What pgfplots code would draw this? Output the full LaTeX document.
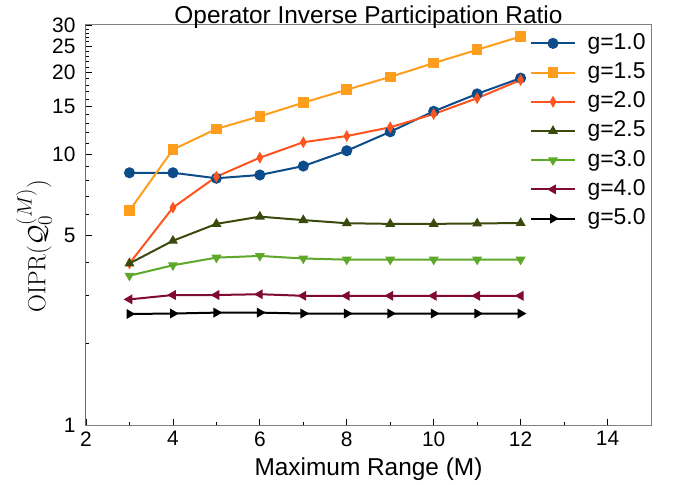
\documentclass[border=0pt]{standalone}
\usepackage[no-math]{fontspec}
\setmainfont{Liberation Sans}
\usepackage{pgfplots}
\pgfplotsset{compat=1.18}
\definecolor{cA}{RGB}{12,76,138}
\definecolor{cB}{RGB}{255,158,28}
\definecolor{cC}{RGB}{255,84,30}
\definecolor{cD}{RGB}{58,74,12}
\definecolor{cE}{RGB}{94,168,42}
\definecolor{cF}{RGB}{128,10,48}
\begin{document}
\begin{tikzpicture}
\begin{axis}[name=ax,
  scale only axis, width=565bp, height=400bp,
  ymode=log, xmin=2, xmax=15, ymin=1, ymax=30,
  xtick={2,4,...,14}, minor xtick={3,5,...,15},
  ytick={1,5,10,15,20,25,30}, yticklabels={1,5,10,15,20,25,30},
  minor ytick={2,3,4,6,7,8,9,11,12,13,14,16,17,18,19,21,22,23,24,26,27,28,29},
  xtick pos=bottom, ytick pos=left,
  major tick length=6bp, minor tick length=3.5bp,
  tick style={black, line width=0.8bp},
  axis line style={gray, line width=1bp},
  /pgf/number format/assume math mode=true,
  ticklabel style={font=\fontsize{21}{25}\selectfont},
  xticklabel style={yshift=-3bp},
  yticklabel style={xshift=-7bp},
  title={Operator Inverse Participation Ratio},
  title style={font=\fontsize{24.5}{28}\selectfont, at={(rel axis cs:0.5,1)}, anchor=base, yshift=-4bp},
  xlabel={Maximum Range (M)},
  xlabel style={font=\fontsize{24.5}{28}\selectfont, at={(rel axis cs:0.5,0)}, anchor=base, yshift=-50bp},
  ylabel={$\mathrm{OIPR}(\mathcal{Q}_0^{(M)})$},
  ylabel style={font=\fontsize{28.5}{32}\selectfont, at={(rel axis cs:0,0.5)}, anchor=center, yshift=52bp, xshift=-21bp},
  legend cell align=left,
  legend style={draw=none, fill=none, at={(rel axis cs:0.781,0.987)}, anchor=north west,
    font=\fontsize{23}{27}\selectfont, row sep=7.2bp,
    nodes={inner sep=0pt, text height=17bp, text depth=5bp},
    /tikz/every odd column/.append style={column sep=12bp}},
  legend image code/.code={\draw[mark repeat=2,mark phase=2] plot coordinates {(0cm,0cm) (0.76cm,0cm) (1.52cm,0cm)};},
  every axis plot/.append style={line width=2bp},
]
\addplot[cA, mark=*, mark size=4.5bp, mark options={solid, fill=cA}] coordinates {
  (3,8.54) (4,8.54) (5,8.15) (6,8.38) (7,9.04) (8,10.3) (9,12.1) (10,14.4) (11,16.7) (12,19.1)};
\addplot[cB, mark=square*, mark size=4.3bp, mark options={solid, fill=cB}] coordinates {
  (3,6.19) (4,10.4) (5,12.4) (6,13.8) (7,15.5) (8,17.3) (9,19.3) (10,21.7) (11,24.3) (12,27.2)};
\addplot[cC, mark=diamond*, mark size=4bp, mark options={solid, fill=cC, xscale=0.75}] coordinates {
  (3,3.95) (4,6.35) (5,8.26) (6,9.71) (7,11.07) (8,11.67) (9,12.57) (10,14.07) (11,16.1) (12,18.8)};
\addplot[cD, mark=triangle*, mark size=3.8bp, mark options={solid, fill=cD}] coordinates {
  (3,3.95) (4,4.79) (5,5.53) (6,5.88) (7,5.71) (8,5.56) (9,5.53) (10,5.53) (11,5.55) (12,5.57)};
\addplot[cE, mark=triangle*, mark size=3.8bp, mark options={solid, fill=cE, rotate=180}] coordinates {
  (3,3.56) (4,3.89) (5,4.15) (6,4.21) (7,4.12) (8,4.08) (9,4.08) (10,4.08) (11,4.08) (12,4.08)};
\addplot[cF, mark=triangle*, mark size=3.8bp, mark options={solid, fill=cF, rotate=90}] coordinates {
  (3,2.91) (4,3.02) (5,3.02) (6,3.04) (7,3.00) (8,3.00) (9,3.00) (10,3.00) (11,3.00) (12,3.00)};
\addplot[black, mark=triangle*, mark size=3.8bp, mark options={solid, fill=black, rotate=-90}] coordinates {
  (3,2.57) (4,2.58) (5,2.60) (6,2.60) (7,2.58) (8,2.58) (9,2.58) (10,2.58) (11,2.58) (12,2.58)};
\legend{g=1.0, g=1.5, g=2.0, g=2.5, g=3.0, g=4.0, g=5.0}
\draw[black, line width=1bp] (rel axis cs:0,1) -- (rel axis cs:0,0) -- (rel axis cs:1,0);
\end{axis}
\pgfresetboundingbox
\path[use as bounding box] ([xshift=-86bp,yshift=-60bp]ax.south west) rectangle ([xshift=24bp,yshift=25bp]ax.north east);
\end{tikzpicture}
\end{document}
